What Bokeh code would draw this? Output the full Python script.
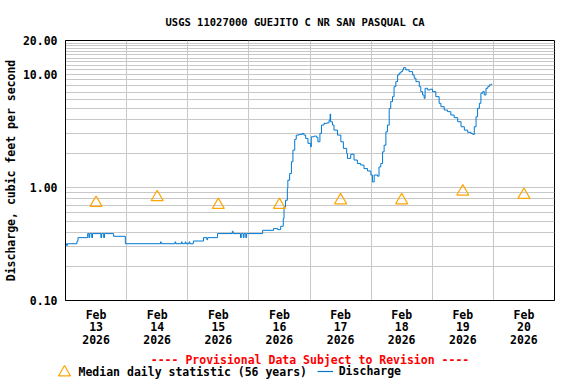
from bokeh.plotting import figure
from bokeh.layouts import column
from bokeh.models import FixedTicker, Range1d, Label, Legend, LegendItem, PrintfTickFormatter
from bokeh.embed import file_html
from bokeh.resources import INLINE

TITLE = "USGS 11027000 GUEJITO C NR SAN PASQUAL CA"
Y_LABEL = "Discharge, cubic feet per second"
PROVISIONAL = "---- Provisional Data Subject to Revision ----"
MEDIAN_LABEL = "Median daily statistic (56 years)"
DISCHARGE_LABEL = "Discharge"

# hours since 2026-02-13 00:00
day_ticks = [12, 36, 60, 84, 108, 132, 156, 180]
day_labels = ["Feb\n13\n2026", "Feb\n14\n2026", "Feb\n15\n2026", "Feb\n16\n2026",
              "Feb\n17\n2026", "Feb\n18\n2026", "Feb\n19\n2026", "Feb\n20\n2026"]
day_bounds = [24, 48, 72, 96, 120, 144, 168]

median_hours = [12, 36, 60, 84, 108, 132, 156, 180]
median_cfs = [0.73, 0.82, 0.70, 0.70, 0.77, 0.77, 0.92, 0.86]

hours = [0, 0.4, 0.8, 4.5, 4.9, 8.7, 9.2, 9.5, 10.3, 10.6, 13.9, 14.2, 15.0, 15.3,
         18.9, 23.5, 37.3, 37.6, 43.0, 43.3, 45.5, 45.8, 47.0, 47.3, 48.5, 48.8,
         50.2, 54.2, 55.5, 55.8, 59.7, 65.5, 65.8, 68.7, 69.0, 69.8, 70.1, 70.8, 71.1,
         77.4, 81.7, 83.3, 84.5, 85.5, 85.8, 86.4, 87.1, 87.3, 88.0, 88.7, 89.3,
         90.0, 90.6, 91.7, 93.0, 93.6, 94.3, 95.2, 96.3, 96.5, 97.6, 98.6, 99.1,
         99.9, 100.5, 101.5, 102.8, 103.5, 103.9, 104.1, 104.8, 105.4, 106.8,
         108.1, 109.1, 110.4, 110.7, 112.0, 113.3, 114.6, 115.9, 117.2, 118.6,
         119.9, 120.5, 121.2, 122.5, 123.1, 123.8, 124.5, 125.1, 125.8, 126.4,
         127.1, 127.7, 128.4, 129.0, 129.7, 130.4, 131.0, 131.7, 132.3, 132.7,
         133.6, 134.9, 136.3, 136.9, 137.6, 138.9, 139.5, 140.2, 140.8, 141.2,
         142.2, 143.2, 144.1, 145.4, 146.7, 147.4, 148.7, 150.0, 151.3, 152.6,
         154.0, 155.3, 156.6, 157.9, 159.2, 159.9, 160.5, 161.2, 161.8, 162.5,
         163.1, 163.8, 164.4, 165.1, 165.8, 166.4, 167.1, 167.5]
discharge = [0.318, 0.308, 0.318, 0.335, 0.36, 0.391, 0.36, 0.391, 0.36, 0.391, 0.36, 0.391, 0.36, 0.391,
             0.37, 0.318, 0.33, 0.318, 0.33, 0.318, 0.33, 0.318, 0.33, 0.318, 0.33, 0.318,
             0.336, 0.36, 0.345, 0.36, 0.391, 0.41, 0.391, 0.36, 0.391, 0.36, 0.391, 0.36, 0.391,
             0.418, 0.433, 0.424, 0.454, 0.531, 0.673, 0.771, 0.98, 1.16, 1.33, 1.69, 2.14,
             2.67, 2.91, 2.95, 3.01, 2.91, 2.72, 2.46, 2.29, 2.81, 2.85, 2.78, 2.54,
             3.01, 3.57, 3.70, 3.74, 3.95, 4.47, 3.82, 3.57, 3.22, 2.91,
             2.54, 2.22, 2.00, 1.81, 1.97, 1.75, 1.63, 1.58, 1.47, 1.40,
             1.29, 1.12, 1.29, 1.26, 1.52, 1.63, 2.07, 2.37, 3.11, 3.57,
             5.0, 5.75, 6.37, 7.81, 8.65, 9.91, 10.3, 10.6, 11.0, 11.5,
             11.0, 10.6, 9.91, 9.27, 8.65, 7.81, 7.05, 6.59, 6.16, 7.55,
             7.30, 7.41, 7.05, 6.37, 5.56, 5.19, 4.85, 4.69, 4.38, 4.15,
             3.82, 3.45, 3.22, 3.08, 3.01, 2.95, 3.45, 4.23, 5.02, 5.56,
             6.82, 7.05, 6.59, 7.55, 7.81, 8.09, 8.20, 8.20]

y_major = [0.1, 1, 10, 20]
y_minor = [0.2, 0.3, 0.4, 0.5, 0.6, 0.7, 0.8, 0.9, 2, 3, 4, 5, 6, 7, 8, 9,
           11, 12, 13, 14, 15, 16, 17, 18, 19]

FONT = "DejaVu Sans Mono"
GRID = "#c8c8c8"
BLUE = "#0078d2"
ORANGE = "orange"

p = figure(width=576, height=350, y_axis_type="log",
           x_range=Range1d(0, 192), y_range=Range1d(0.1, 20),
           output_backend="svg", toolbar_location=None,
           min_border_left=65, min_border_right=22, min_border_top=40, min_border_bottom=50)
p.frame_align = False

p.title.text = TITLE
p.title.text_font = FONT
p.title.text_font_size = "10.5px"
p.title.text_font_style = "bold"
p.title.text_color = "black"
p.title.align = "left"
p.title.offset = 100
p.title.standoff = 25

p.outline_line_color = "black"
p.outline_line_alpha = 1.0
p.background_fill_color = "white"

# x axis
p.xaxis.ticker = FixedTicker(ticks=day_ticks)
p.xaxis.major_label_overrides = {float(t): s for t, s in zip(day_ticks, day_labels)}
p.xaxis.major_label_text_font = FONT
p.xaxis.major_label_text_font_style = "bold"
p.xaxis.major_label_text_font_size = "11.5px"
p.xaxis.major_label_text_color = "black"
p.xaxis.major_label_text_line_height = 0.9
p.xaxis.major_label_standoff = 7
p.xaxis.major_tick_line_color = None
p.xaxis.minor_tick_line_color = None
p.xaxis.major_tick_out = 0
p.xaxis.minor_tick_out = 0
p.xaxis.axis_line_color = "black"
p.xgrid.ticker = FixedTicker(ticks=day_bounds)
p.xgrid.grid_line_color = GRID

# y axis
yt = FixedTicker(ticks=y_major, minor_ticks=y_minor)
p.yaxis.ticker = yt
p.yaxis.formatter = PrintfTickFormatter(format="%.2f")
p.yaxis.major_label_text_font = FONT
p.yaxis.major_label_text_font_style = "bold"
p.yaxis.major_label_text_font_size = "11.5px"
p.yaxis.major_label_text_color = "black"
p.yaxis.major_label_standoff = 8
p.yaxis.major_tick_line_color = None
p.yaxis.minor_tick_line_color = None
p.yaxis.major_tick_out = 0
p.yaxis.minor_tick_out = 0
p.yaxis.axis_label = Y_LABEL
p.yaxis.axis_label_text_font = FONT
p.yaxis.axis_label_text_font_style = "bold"
p.yaxis.axis_label_text_font_size = "11.5px"
p.yaxis.axis_label_text_color = "black"
p.yaxis.axis_label_standoff = 2
p.yaxis.axis_line_color = "black"
p.ygrid.ticker = yt
p.ygrid.grid_line_color = GRID
p.ygrid.minor_grid_line_color = GRID

p.step(hours, discharge, mode="after", line_color=BLUE, line_width=1)
p.scatter(median_hours, median_cfs, marker="triangle", size=12,
          fill_color=None, line_color=ORANGE, line_width=1.2)

# footer: provisional note and legend (same series; ranges keep the marks out of view)
f = figure(width=576, height=34, x_range=Range1d(0, 192), y_range=Range1d(100, 101),
           x_axis_location=None, y_axis_location=None,
           output_backend="svg", toolbar_location=None, min_border=0)
f.frame_align = False
f.outline_line_color = None
f.grid.visible = False

line2 = f.line(hours, discharge, line_color=BLUE, line_width=1.2)
tri2 = f.scatter(median_hours, median_cfs, marker="triangle", size=12,
                 fill_color=None, line_color=ORANGE, line_width=1.2)

f.add_layout(Label(x=309.5, y=25, x_units="screen", y_units="screen",
                   text=PROVISIONAL, text_align="center", text_baseline="middle",
                   text_color="red", text_font=FONT, text_font_style="bold",
                   text_font_size="11.5px"))

common = dict(orientation="horizontal", padding=0, margin=0, spacing=0,
              background_fill_alpha=0, border_line_alpha=0,
              label_text_font=FONT, label_text_font_style="bold",
              label_text_font_size="11.5px", label_text_color="black")
leg1 = Legend(items=[LegendItem(label=MEDIAN_LABEL, renderers=[tri2])],
              location=(48.5, -2.5),
              glyph_width=30, glyph_height=30, label_height=30, label_standoff=0, **common)
leg2 = Legend(items=[LegendItem(label=DISCHARGE_LABEL, renderers=[line2])],
              location=(316.7, 6),
              glyph_width=16, glyph_height=12, label_height=12, label_standoff=6, **common)
f.add_layout(leg1)
f.add_layout(leg2)

layout = column(p, f, spacing=0)
open("out.html", "w").write(file_html(layout, INLINE))
